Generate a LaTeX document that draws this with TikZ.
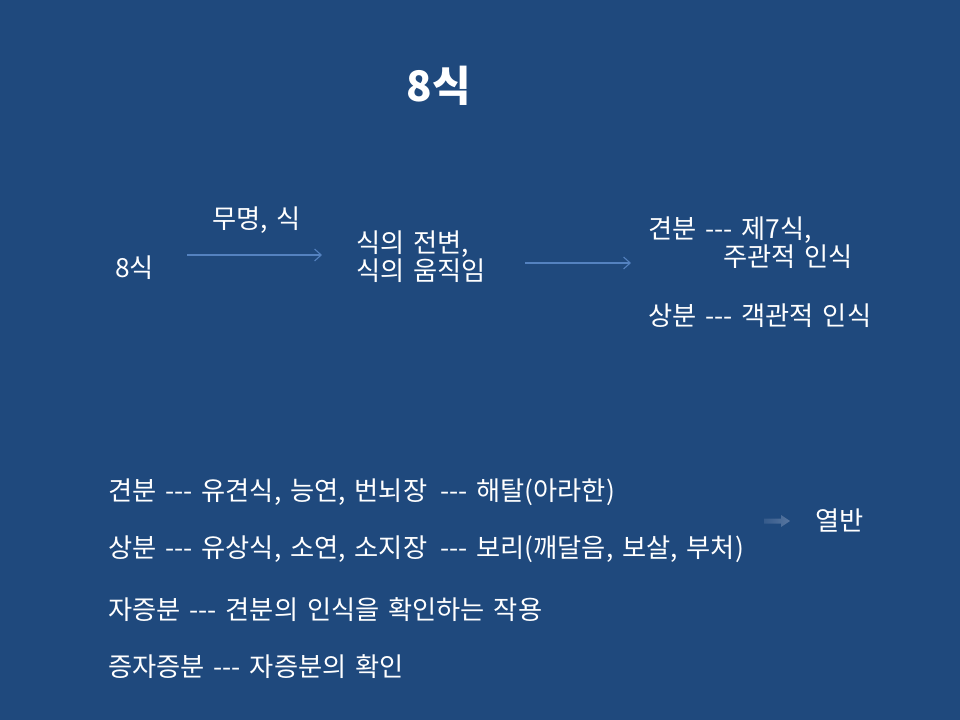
\documentclass[tikz,border=0pt]{standalone}
\usepackage{fontspec}
\setmainfont{Noto Sans CJK KR}[Ligatures=TeXOff,WordSpace=1.5]
\usetikzlibrary{arrows.meta}
\definecolor{bgblue}{RGB}{31,73,125}
\definecolor{arrowblue}{RGB}{84,130,192}
\definecolor{blockarrow}{RGB}{88,118,160}
\tikzset{
  txt/.style={anchor=west, inner sep=0pt, text=white, font=\fontsize{19.7pt}{21pt}\selectfont},
  ttl/.style={anchor=center, inner sep=0pt, text=white, font=\fontsize{31.5pt}{34pt}\selectfont\bfseries},
  thinarrow/.style={draw=arrowblue, line width=0.8pt, -{Straight Barb[length=5pt,width=9pt]}},
}
\begin{document}
\begin{tikzpicture}[x=0.75pt,y=-0.75pt]
\fill[bgblue] (0,0) rectangle (960,720);
\useasboundingbox (0,0) rectangle (960,720);

\node[ttl] (title) at (439,86) {8식};

\node[txt] (mm) at (212,220) {무명, 식};
\node[txt] (e8) at (115,268) {8식};
\node[txt, align=left] (jb) at (356,257) {식의 전변,\\식의 움직임};
\node[txt] (gb1) at (648,230) {견분 --- 제7식,};
\node[txt] (gb2) at (723,257) {주관적 인식};
\node[txt] (sb1) at (648,316) {상분 --- 객관적 인식};

\coordinate (a1s) at (187,255);
\coordinate (a1e) at (322,255);
\coordinate (a2s) at (525,263);
\coordinate (a2e) at (631,263);
\draw[thinarrow] (a1s) -- (a1e);
\draw[thinarrow] (a2s) -- (a2e);

\node[txt] (l1) at (108,492) {견분 --- 유견식, 능연, 번뇌장};
\node[txt] (l1b) at (440,492) {--- 해탈(아라한)};
\node[txt] (l2) at (108,549) {상분 --- 유상식, 소연, 소지장};
\node[txt] (l2b) at (440,549) {--- 보리(깨달음, 보살, 부처)};
\node[txt] (nb) at (815,521) {열반};
\node[txt] (l3) at (108,610) {자증분 --- 견분의 인식을 확인하는 작용};
\node[txt] (l4) at (108,667) {증자증분 --- 자증분의 확인};

\shade[left color=bgblue!60!blockarrow, right color=blockarrow]
  (764,518.5) -- (781,518.5) -- (781,515) -- (790,521) -- (781,527) -- (781,523.5) -- (764,523.5) -- cycle;
\end{tikzpicture}
\end{document}
